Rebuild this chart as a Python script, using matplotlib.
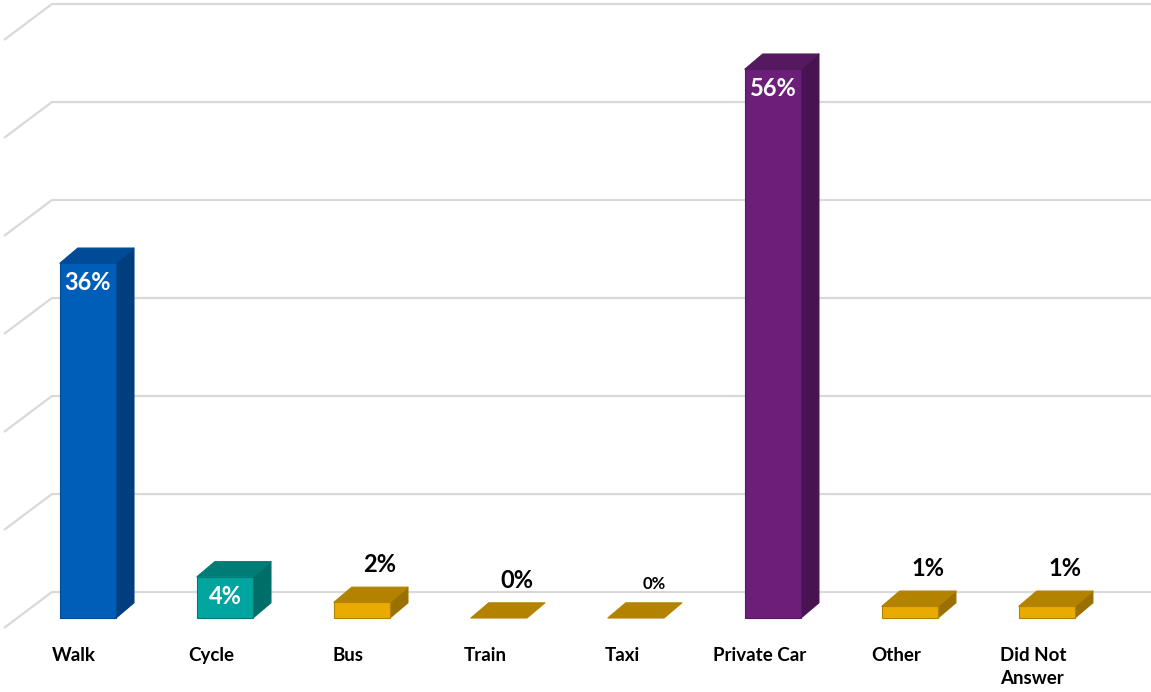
import matplotlib
matplotlib.use("Agg")
import matplotlib.pyplot as plt
from matplotlib.patches import Polygon

plt.rcParams["font.family"] = ["Lato", "DejaVu Sans"]

# --- data ---
categories = ["Walk", "Cycle", "Bus", "Train", "Taxi", "Private Car", "Other", "Did Not\nAnswer"]
shares = [36.2, 4.2, 1.6, 0.0, 0.0, 56.0, 1.2, 1.2]
value_labels = [f"{round(v)}%" for v in shares]

# face colours per bar: (front, side, top)
GOLD = ("#EAAB00", "#9A7100", "#B38300")
bar_colors = [
    ("#005EB8", "#003E7E", "#004B98"),
    ("#00A59F", "#006E68", "#007C76"),
    GOLD, GOLD, GOLD,
    ("#6B1F79", "#471350", "#56185F"),
    GOLD, GOLD,
]

# --- 3D look (in data units: x = category index, y = percent) ---
BAR_W = 0.41
DX, DY = 0.131, 1.55          # bar depth offset
FLOOR_FRONT, FLOOR_BACK = -1.02, 2.65
WALL_X0, WALL_X1 = -0.613, -0.263
XLIM = (-0.642, 7.76)
YLIM = (-7.55, 63.06)

fig = plt.figure(figsize=(11.51, 6.92), dpi=100)
ax = fig.add_axes([0, 0, 1, 1])
ax.set_xlim(*XLIM)
ax.set_ylim(*YLIM)
ax.axis("off")

# gridlines: back wall plus the short perspective floor edge on the left
for g in range(0, 61, 10):
    ax.plot([WALL_X0, WALL_X1, XLIM[1]],
            [g + FLOOR_FRONT, g + FLOOR_BACK, g + FLOOR_BACK],
            color="#D9D9D9", lw=1.6, solid_capstyle="butt", zorder=1)


def draw_bar(i, v, front, side, top):
    x0 = i - BAR_W / 2
    x1 = x0 + BAR_W
    edge = dict(lw=0.8, joinstyle="round", zorder=3)
    if v > 0:
        ax.add_patch(Polygon([(x1, 0), (x1 + DX, DY), (x1 + DX, v + DY), (x1, v)],
                             closed=True, fc=side, ec=side, **edge))
    ax.add_patch(Polygon([(x0, v), (x0 + DX, v + DY), (x1 + DX, v + DY), (x1, v)],
                         closed=True, fc=top, ec=top, **edge))
    if v > 0:
        ax.add_patch(Polygon([(x0, 0), (x1, 0), (x1, v), (x0, v)],
                             closed=True, fc=front, ec=top, **edge))


label_size = {"Taxi": 12}

for i, (cat, v, lab, cols) in enumerate(zip(categories, shares, value_labels, bar_colors)):
    draw_bar(i, v, *cols)
    if v >= 3:
        ax.text(i, v - 2.0, lab, ha="center", va="center", color="white",
                fontsize=17, fontweight="bold", zorder=5)
    else:
        ax.annotate(lab, (i + DX, v + DY), xytext=(0, 8), textcoords="offset points",
                    ha="center", va="bottom", color="black",
                    fontsize=label_size.get(cat, 17), fontweight="bold", zorder=5)
    ax.text(i - 0.1, -2.95, cat, ha="center", va="top", multialignment="left",
            fontsize=13.5, fontweight="bold", color="black", linespacing=1.45)

fig.savefig("out.png", dpi=100)
